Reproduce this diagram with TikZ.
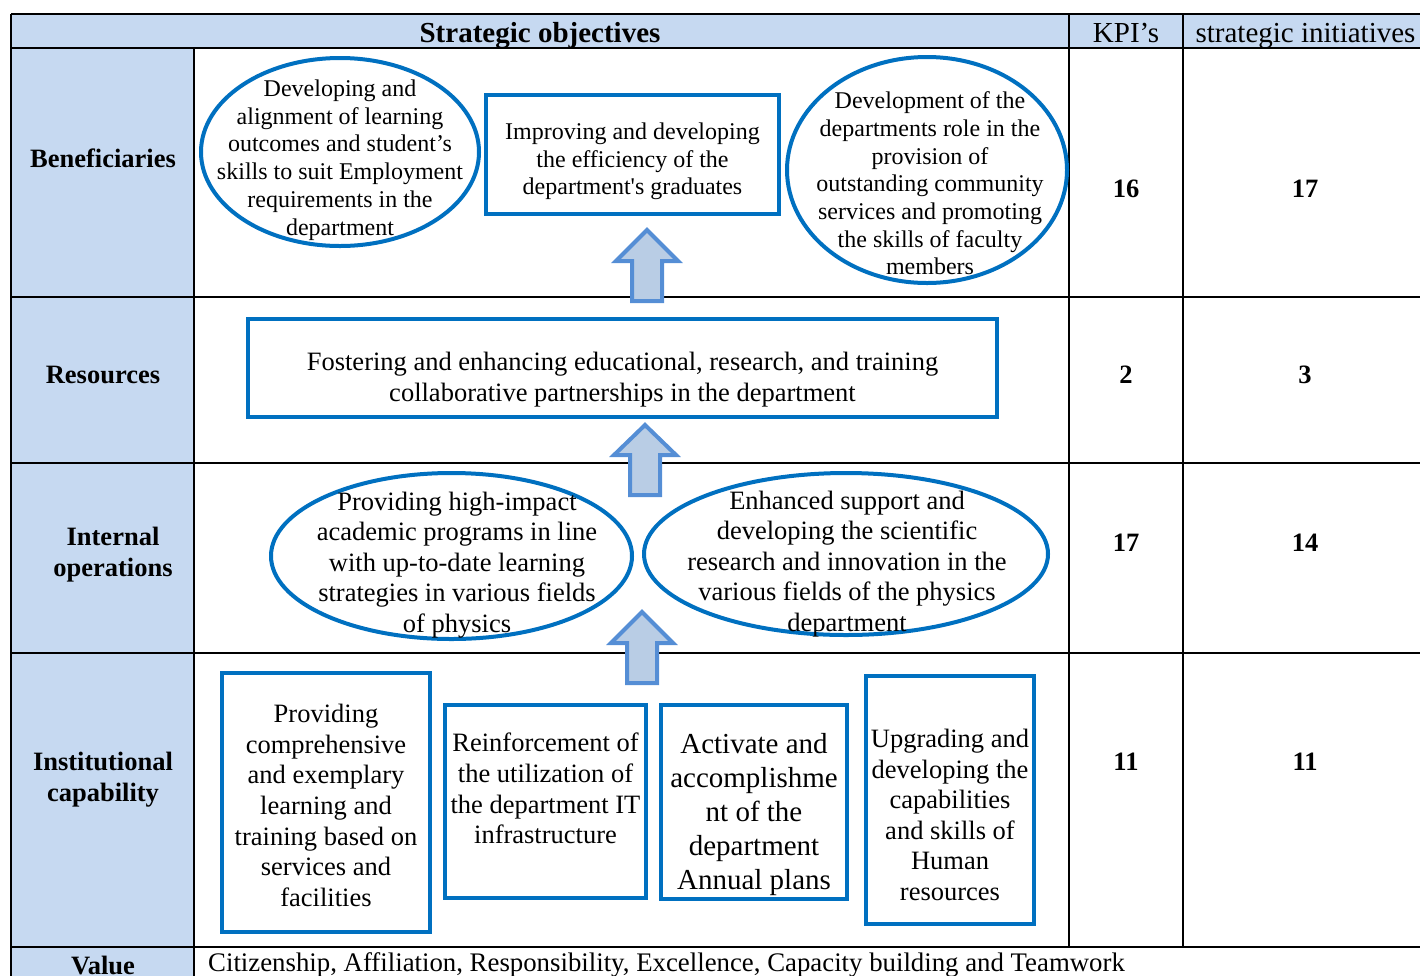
\documentclass[tikz,border=0pt]{standalone}
\usepackage{fontspec}
\setmainfont{Liberation Serif}
\usetikzlibrary{shapes.geometric}
\definecolor{hdr}{HTML}{C6D9F1}
\definecolor{sblue}{HTML}{0070C0}
\definecolor{afill}{HTML}{B9CDE5}
\definecolor{aline}{HTML}{558ED5}
\begin{document}
\begin{tikzpicture}[x=1pt,y=-1pt,
  grid/.style={line width=2.5pt, black},
  ovalbox/.style={ellipse, draw=sblue, fill=white, line width=4pt, inner sep=0pt},
  rectbox/.style={rectangle, draw=sblue, fill=white, line width=4pt, inner sep=0pt},
  txtA/.style={align=center, inner sep=0pt, font=\fontsize{24}{27.7}\selectfont},
  txtB/.style={align=center, inner sep=0pt, font=\fontsize{26.5}{30.6}\selectfont},
  txtC/.style={align=center, inner sep=0pt, font=\fontsize{29}{34}\selectfont},
  lbl/.style={align=center, inner sep=0pt, font=\fontsize{26.5}{31}\selectfont\bfseries},
  hd/.style={inner sep=0pt, font=\fontsize{29}{33}\selectfont},
  blockarrow/.style={fill=afill, draw=aline, line width=4pt, line join=miter}
]
\useasboundingbox (0,0) rectangle (1420,975);
\clip (0,0) rectangle (1420,975);
% fills
\fill[hdr] (11,14) rectangle (1430,48);
\fill[hdr] (11,48) rectangle (194,990);
% grid
\draw[grid] (11,14) -- (1430,14);
\draw[grid] (11,48) -- (1430,48);
\draw[grid] (11,297) -- (1430,297);
\draw[grid] (11,463) -- (1430,463);
\draw[grid] (11,653) -- (1430,653);
\draw[grid] (11,947) -- (1430,947);
\draw[grid] (11,14) -- (11,990);
\draw[grid] (194,48) -- (194,990);
\draw[grid] (1069,14) -- (1069,947);
\draw[grid] (1183,14) -- (1183,947);
% header
\node[hd, font=\fontsize{29}{33}\selectfont\bfseries] (hso) at (540,36) {Strategic objectives};
\node[hd] (hkpi) at (1126,33) {KPI’s};
\node[hd] (hsi) at (1305.5,36) {strategic initiatives};
% row labels
\node[lbl] (lben) at (103,158) {Beneficiaries};
\node[lbl] (lres) at (103,375) {Resources};
\node[lbl] (lint) at (113,555) {Internal\\operations};
\node[lbl] (lins) at (103,780) {Institutional\\capability};
\node[lbl] (lval) at (103,965) {Value};
% numbers
\node[lbl] (k1) at (1126,189) {16};
\node[lbl] (s1) at (1305,189) {17};
\node[lbl] (k2) at (1126,375) {2};
\node[lbl] (s2) at (1305,375) {3};
\node[lbl] (k3) at (1126,543) {17};
\node[lbl] (s3) at (1305,543) {14};
\node[lbl] (k4) at (1126,762) {11};
\node[lbl] (s4) at (1305,762) {11};
% value text
\node[inner sep=0pt, anchor=west, font=\fontsize{26.8}{31}\selectfont] (vtxt) at (208,965) {Citizenship, Affiliation, Responsibility, Excellence, Capacity building and Teamwork};
% arrows
\draw[blockarrow] (632,301) -- (632,261) -- (616,261) -- (647,230) -- (678,261) -- (662,261) -- (662,301) -- cycle;
\draw[blockarrow] (630,495) -- (630,455) -- (614,455) -- (645,425) -- (676,455) -- (660,455) -- (660,495) -- cycle;
\draw[blockarrow] (627,683) -- (627,643) -- (611,643) -- (642,612) -- (673,643) -- (657,643) -- (657,683) -- cycle;
% beneficiaries
\node[ovalbox, minimum width=278pt, minimum height=188pt] (e1) at (340,152) {};
\node[txtA] (t1) at (340,160) {Developing and\\alignment of learning\\outcomes and student’s\\skills to suit Employment\\requirements in the\\department};
\node[rectbox, minimum width=293pt, minimum height=119pt] (b1) at (632.5,154.5) {};
\node[txtA] (t2) at (632.5,161.5) {Improving and developing\\the efficiency of the\\department\textquotesingle s graduates};
\node[ovalbox, minimum width=280pt, minimum height=226pt] (e2) at (927,170) {};
\node[txtA] (t3) at (930,183.5) {Development of the\\departments role in the\\provision of\\outstanding community\\services and promoting\\the skills of faculty\\members};
% resources
\node[rectbox, minimum width=749pt, minimum height=98pt] (b2) at (622.5,368) {};
\node[txtB] (t4) at (622.5,379.5) {Fostering and enhancing educational, research, and training\\collaborative partnerships in the department};
% internal operations
\node[ovalbox, minimum width=361pt, minimum height=166pt] (e3) at (451.5,556) {};
\node[txtB] (t5) at (457,565) {Providing high-impact\\academic programs in line\\with up-to-date  learning\\strategies in various fields\\of physics};
\node[ovalbox, minimum width=404pt, minimum height=162pt] (e4) at (846,554) {};
\node[txtB] (t6) at (847,564) {Enhanced support and\\developing the scientific\\research and innovation in the\\various fields of the physics\\department};
% institutional capability
\node[rectbox, minimum width=208pt, minimum height=259pt] (c1) at (326,802.5) {};
\node[txtB] (t7) at (326,805.5) {Providing\\comprehensive\\and exemplary\\learning and\\training based on\\services and\\facilities};
\node[rectbox, minimum width=201pt, minimum height=193pt] (c2) at (545.5,801.5) {};
\node[txtB] (t8) at (545.5,788.5) {Reinforcement of\\the utilization of\\the department IT\\infrastructure};
\node[rectbox, minimum width=186pt, minimum height=194pt] (c3) at (754,802) {};
\node[txtC] (t9) at (754,815) {Activate and\\accomplishme\\nt of the\\department\\Annual plans};
\node[rectbox, minimum width=168pt, minimum height=248pt] (c4) at (950,800) {};
\node[txtB] (t10) at (950,815) {Upgrading and\\developing the\\capabilities\\and skills of\\Human\\resources};
\end{tikzpicture}
\end{document}
